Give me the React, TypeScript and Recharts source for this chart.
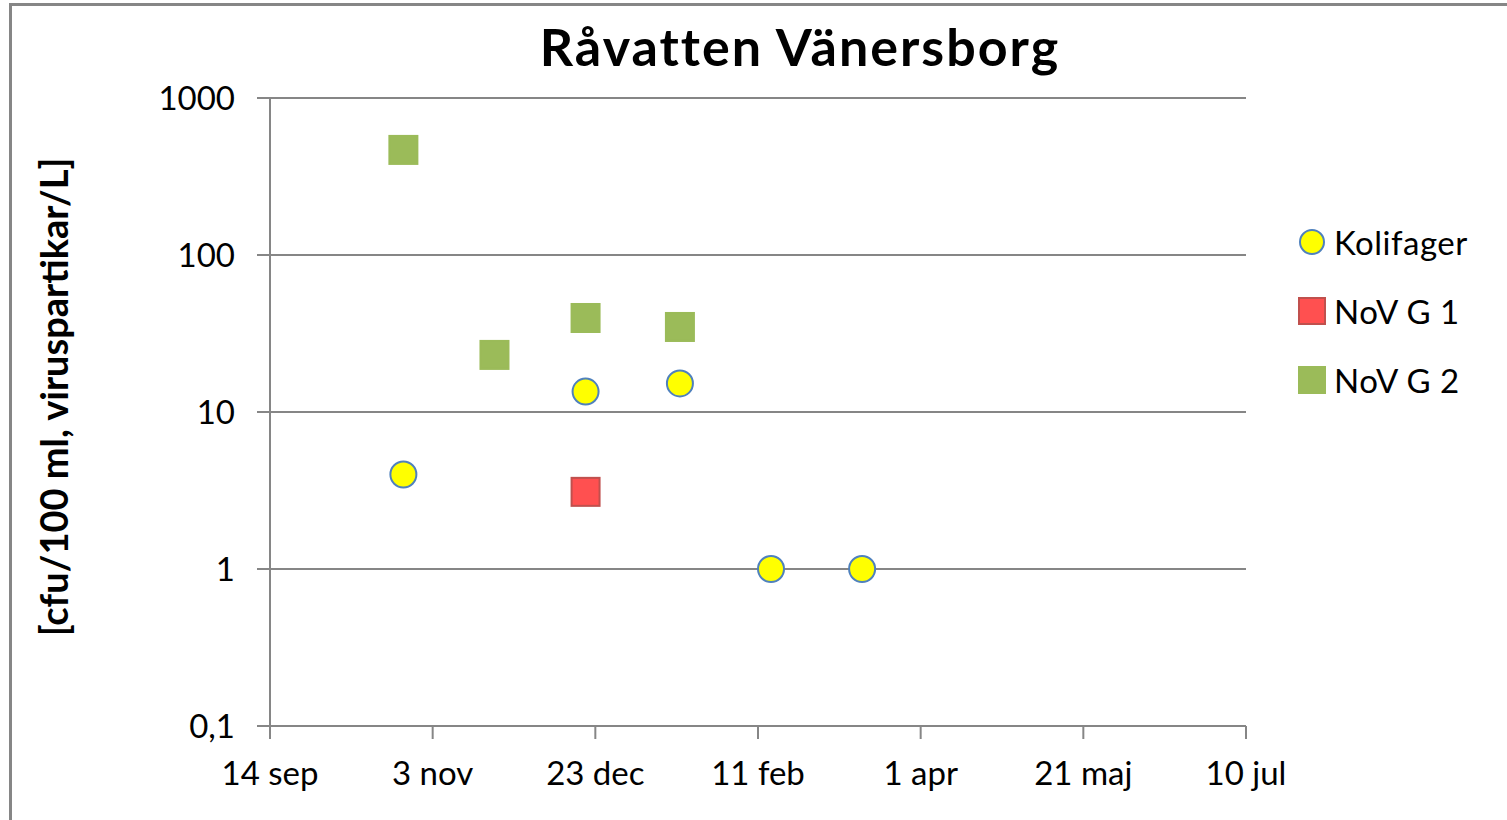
import React from 'react'
import { ScatterChart, Scatter, XAxis, YAxis, CartesianGrid } from 'recharts'

// dates (season 2011/12), values off the log y axis
const START = Date.UTC(2011, 8, 14)
const kolifagerDates = ['2011-10-25', '2011-12-20', '2012-01-18', '2012-02-15', '2012-03-14']
const kolifagerValues = [4, 13.5, 15.2, 1, 1]
const novG1Dates = ['2011-12-20']
const novG1Values = [3.1]
const novG2Dates = ['2011-10-25', '2011-11-22', '2011-12-20', '2012-01-18']
const novG2Values = [467, 23.1, 39.7, 34.8]

const xTicks = [0, 50, 100, 150, 200, 250, 300]
const xTickLabels = ['14 sep', '3 nov', '23 dec', '11 feb', '1 apr', '21 maj', '10 jul']
const yTicks = [0.1, 1, 10, 100, 1000]
const yTickLabels = ['0,1', '1', '10', '100', '1000']

const series = [
  { name: 'Kolifager', dates: kolifagerDates, values: kolifagerValues, fill: '#ffff00', stroke: '#4f81bd', kind: 'circle' },
  { name: 'NoV G 1', dates: novG1Dates, values: novG1Values, fill: '#ff5050', stroke: '#c0504d', kind: 'square' },
  { name: 'NoV G 2', dates: novG2Dates, values: novG2Values, fill: '#9bbb59', stroke: '#9bbb59', kind: 'square' },
]

const dayOf = (iso: string) => Math.round((Date.parse(iso) - START) / 86400000)
const toPoints = (dates: string[], values: number[]) => dates.map((d, i) => ({ x: dayOf(d), y: values[i] }))

const FONT = 'Lato, "Noto Sans", sans-serif'
const GRAY = '#868686'

const marker = (kind: string, fill: string, stroke: string) => (props: any) => {
  const { cx, cy } = props
  if (cx == null || cy == null) return null
  if (kind === 'circle') return <circle cx={cx} cy={cy} r={13} fill={fill} stroke={stroke} strokeWidth={2} />
  return <rect x={cx - 14} y={cy - 14} width={28} height={28} fill={fill} stroke={stroke} strokeWidth={2} />
}

function LegendBox() {
  return (
    <div style={{ fontFamily: FONT, fontSize: 33, letterSpacing: 0.5, color: '#000' }}>
      {series.map((s) => (
        <div key={s.name} style={{ display: 'flex', alignItems: 'center', height: 69 }}>
          <svg width={28} height={28} style={{ marginRight: 8 }}>
            {s.kind === 'circle'
              ? <circle cx={14} cy={14} r={12} fill={s.fill} stroke={s.stroke} strokeWidth={2} />
              : <rect x={1} y={1} width={26} height={26} fill={s.fill} stroke={s.stroke} strokeWidth={2} />}
          </svg>
          <span>{s.name}</span>
        </div>
      ))}
    </div>
  )
}

export default function App() {
  return (
    <div style={{ position: 'fixed', left: 0, top: 0, width: 1507, height: 820, background: '#fff', overflow: 'hidden' }}>
      <div style={{ position: 'absolute', left: 9, top: 3, width: 3, height: 817, background: GRAY, zIndex: 2 }} />
      <div style={{ position: 'absolute', left: 9, top: 3, width: 1498, height: 3, background: GRAY, zIndex: 2 }} />
      <div style={{ position: 'absolute', left: 0, width: 1600, top: 15, lineHeight: 1.2, textAlign: 'center', fontFamily: FONT, fontWeight: 700, fontSize: 52, letterSpacing: 2, color: '#000', zIndex: 1 }}>
        Råvatten Vänersborg
      </div>
      <div style={{ position: 'absolute', left: 53, top: 397, transform: 'translate(-50%, -50%) rotate(-90deg)', whiteSpace: 'nowrap', fontFamily: FONT, fontWeight: 700, fontSize: 38, color: '#000', zIndex: 1 }}>
        [cfu/100 ml, viruspartikar/L]
      </div>
      <div style={{ position: 'absolute', left: 1298, top: 207, zIndex: 1 }}>
        <LegendBox />
      </div>
      <ScatterChart width={1507} height={820} margin={{ top: 98, right: 261, bottom: 44, left: 150 }} style={{ position: 'absolute', left: 0, top: 0 }}>
        <CartesianGrid vertical={false} stroke={GRAY} strokeWidth={2} />
        <XAxis
          type="number"
          dataKey="x"
          domain={[0, 300]}
          ticks={xTicks}
          height={50}
          tickSize={13}
          tickMargin={23}
          tickFormatter={(v: number) => xTickLabels[xTicks.indexOf(v)] ?? ''}
          axisLine={{ stroke: GRAY, strokeWidth: 2 }}
          tickLine={{ stroke: GRAY, strokeWidth: 2 }}
          tick={{ fill: '#000', fontSize: 33, fontFamily: FONT }}
        />
        <YAxis
          type="number"
          dataKey="y"
          scale="log"
          domain={[0.1, 1000]}
          ticks={yTicks}
          allowDataOverflow
          width={120}
          tickSize={13}
          tickMargin={22}
          tickFormatter={(v: number) => yTickLabels[yTicks.indexOf(v)] ?? ''}
          axisLine={{ stroke: GRAY, strokeWidth: 2 }}
          tickLine={{ stroke: GRAY, strokeWidth: 2 }}
          tick={{ fill: '#000', fontSize: 33, fontFamily: FONT }}
        />
        {series.map((s) => (
          <Scatter
            key={s.name}
            name={s.name}
            data={toPoints(s.dates, s.values)}
            fill={s.fill}
            shape={marker(s.kind, s.fill, s.stroke)}
            isAnimationActive={false}
          />
        ))}
      </ScatterChart>
    </div>
  )
}
